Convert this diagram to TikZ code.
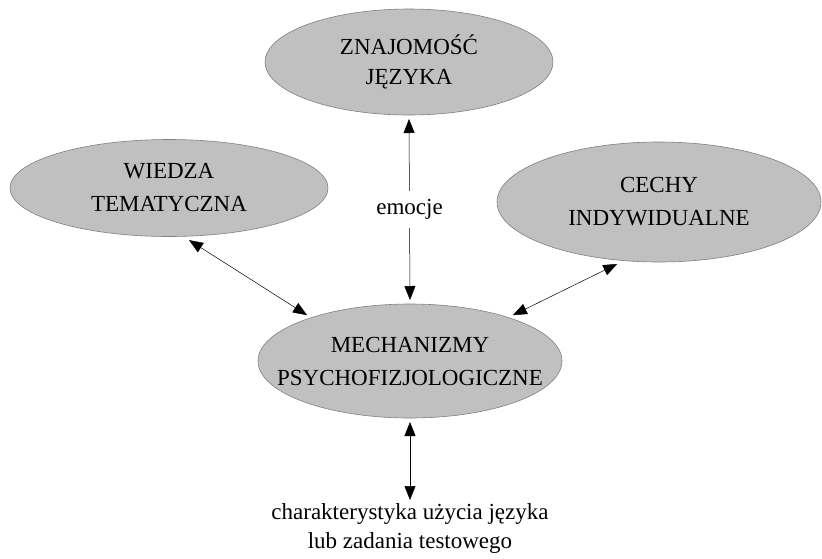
\documentclass[tikz,border=0pt]{standalone}
\usepackage{fontspec}
\setmainfont{Liberation Serif}
\usetikzlibrary{shapes.geometric,arrows.meta}
\definecolor{ovalfill}{HTML}{C0C0C0}
\definecolor{ovaledge}{HTML}{808080}
\begin{document}
\begin{tikzpicture}[x=1pt,y=-1pt,
  oval/.style={ellipse, fill=ovalfill, draw=ovaledge, line width=0.6pt,
    inner xsep=-40pt, inner ysep=0pt, outer sep=4pt, align=center,
    font=\fontsize{23}{33}\selectfont},
  link/.style={draw=black, line width=0.5pt,
    {Triangle[length=14pt,width=11pt]}-{Triangle[length=14pt,width=11pt]}},
  caption/.style={align=center, font=\fontsize{23}{29}\selectfont}]
  \useasboundingbox (0,0) rectangle (822,558);

  % the four ovals
  \node[oval, minimum width=288pt, minimum height=106pt,
    font=\fontsize{23}{30}\selectfont] (znaj) at (409,62)
    {ZNAJOMOŚĆ\\JĘZYKA};
  \node[oval, minimum width=318pt, minimum height=97pt] (wiedza) at (169,188)
    {WIEDZA\\TEMATYCZNA};
  \node[oval, minimum width=324pt, minimum height=120pt] (cechy) at (659,202)
    {CECHY\\INDYWIDUALNE};
  \node[oval, minimum width=304pt, minimum height=114pt] (mech) at (410,361)
    {MECHANIZMY\\PSYCHOFIZJOLOGICZNE};

  % caption under the diagram
  \node[caption, anchor=north] (wynik) at (410,500)
    {charakterystyka użycia języka\\lub zadania testowego};

  % connectors
  \draw[link] (znaj.south) -- node[fill=white, inner xsep=2pt, inner ysep=8pt,
    font=\fontsize{23}{30}\selectfont] (emocje) {emocje} (mech.north);
  \draw[link] (wiedza.-69) -- (mech.156);
  \draw[link] (cechy.-124) -- (mech.24);
  \draw[link] (mech.south) -- (wynik.north);
\end{tikzpicture}
\end{document}
